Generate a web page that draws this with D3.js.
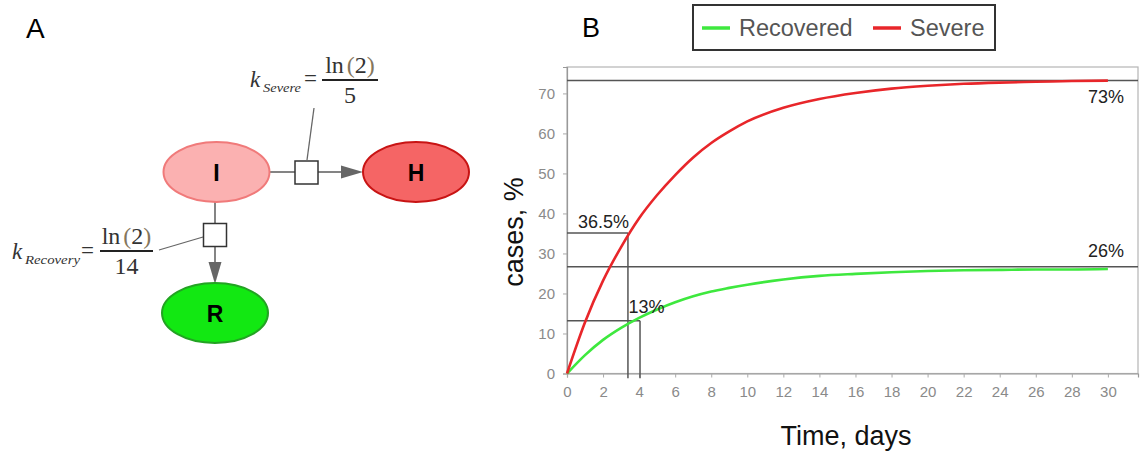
<!DOCTYPE html>
<html>
<head>
<meta charset="utf-8">
<script src="https://cdn.jsdelivr.net/npm/d3@7"></script>
<style>
  html, body { margin: 0; padding: 0; background: #fff; }
  svg { display: block; font-family: "Liberation Sans", Arial, sans-serif; }
</style>
</head>
<body>
<div id="chart"></div>
<script>
// ---- data ----
const days = [0, 1, 2, 3, 4, 5, 6, 7, 8, 9, 10, 12, 14, 16, 18, 20, 22, 24, 26, 28, 30];
const severe = [0, 12.8, 23.2, 31.6, 38.8, 44.6, 49.6, 54, 57.6, 60.5, 63, 66.4, 68.6, 70.1, 71.2, 71.9, 72.4, 72.7, 72.9, 73.1, 73.2];
const recovered = [0, 4.6, 8.4, 11.4, 13.9, 16, 17.8, 19.3, 20.5, 21.4, 22.2, 23.5, 24.4, 24.9, 25.3, 25.6, 25.8, 25.9, 26, 26, 26.1];

const seriesNames = ["Recovered", "Severe"];
const seriesColors = ["#3ee83e", "#e8262a"];

const xTickValues = [0, 2, 4, 6, 8, 10, 12, 14, 16, 18, 20, 22, 24, 26, 28, 30];
const yTickValues = [0, 10, 20, 30, 40, 50, 60, 70];

// plateau lines (full width) and half-way markers
const plateauValues = [73.2, 26.7];
const plateauLabels = ["73%", "26%"];
const halfTimes = [3.38, 4.05];
const halfValues = [35.1, 13.2];
const halfLabels = ["36.5%", "13%"];

// ---- layout ----
const W = 1145, H = 454;
const plot = { left: 567, right: 1138, top: 67, bottom: 373.5 };

const svg = d3.select("#chart").append("svg")
  .attr("width", W).attr("height", H)
  .attr("viewBox", `0 0 ${W} ${H}`);

// panel letters
svg.append("text").attr("x", 26).attr("y", 38).attr("font-size", 28).text("A");
svg.append("text").attr("x", 582).attr("y", 37).attr("font-size", 27).text("B");

// ================= Panel A: reaction scheme =================
const gA = svg.append("g");
const edge = "#666";

// connector lines
gA.append("line").attr("x1", 270).attr("y1", 172).attr("x2", 295).attr("y2", 172).attr("stroke", edge).attr("stroke-width", 1.6);
gA.append("line").attr("x1", 318).attr("y1", 172).attr("x2", 342).attr("y2", 172).attr("stroke", edge).attr("stroke-width", 1.6);
gA.append("path").attr("d", "M341,165.5 L363,172 L341,178.5 Z").attr("fill", edge);

gA.append("line").attr("x1", 215).attr("y1", 202).attr("x2", 215).attr("y2", 223).attr("stroke", edge).attr("stroke-width", 1.6);
gA.append("line").attr("x1", 215).attr("y1", 247).attr("x2", 215).attr("y2", 263).attr("stroke", edge).attr("stroke-width", 1.6);
gA.append("path").attr("d", "M208.5,262 L215,284 L221.5,262 Z").attr("fill", edge);

// annotation leaders
gA.append("line").attr("x1", 307).attr("y1", 160).attr("x2", 314).attr("y2", 108).attr("stroke", edge).attr("stroke-width", 1.3);
gA.append("line").attr("x1", 203).attr("y1", 237).attr("x2", 159).attr("y2", 250).attr("stroke", edge).attr("stroke-width", 1.3);

// reaction squares
gA.append("rect").attr("x", 295).attr("y", 161).attr("width", 23).attr("height", 23)
  .attr("fill", "#fff").attr("stroke", "#333").attr("stroke-width", 1.5);
gA.append("rect").attr("x", 203.5).attr("y", 223.5).attr("width", 23).attr("height", 23)
  .attr("fill", "#fff").attr("stroke", "#333").attr("stroke-width", 1.5);

// nodes
const nodes = [
  { name: "I", cx: 216.5, cy: 172, fill: "#fbb1b1", stroke: "#f07a7a" },
  { name: "H", cx: 416, cy: 172, fill: "#f56565", stroke: "#c81414" },
  { name: "R", cx: 215, cy: 313, fill: "#12e812", stroke: "#23a323" }
];
const nodeG = gA.selectAll("g.node").data(nodes).join("g").attr("class", "node");
nodeG.append("ellipse")
  .attr("cx", d => d.cx).attr("cy", d => d.cy).attr("rx", 53).attr("ry", 30)
  .attr("fill", d => d.fill).attr("stroke", d => d.stroke).attr("stroke-width", 2);
nodeG.append("text")
  .attr("x", d => d.cx).attr("y", d => d.cy + 8.5)
  .attr("text-anchor", "middle").attr("font-size", 23).attr("font-weight", 700)
  .text(d => d.name);

// rate formulas
const serif = "'Liberation Serif', 'DejaVu Serif', serif";
function formula(g, o) {
  g.append("text").attr("x", o.kx).attr("y", o.kBase)
    .attr("font-family", serif).attr("font-style", "italic").attr("font-size", 23).attr("fill", "#333").text("k");
  g.append("text").attr("x", o.kx + 13).attr("y", o.kBase + 5)
    .attr("font-family", serif).attr("font-style", "italic").attr("font-size", o.subSize).attr("fill", "#333")
    .attr("textLength", o.subLen).attr("lengthAdjust", "spacingAndGlyphs").text(o.sub);
  g.append("text").attr("x", o.eqx).attr("y", o.kBase - 1)
    .attr("font-family", serif).attr("font-size", 23).attr("fill", "#333").text("=");
  const num = g.append("text").attr("x", o.barX + o.barW / 2).attr("y", o.barY - 7)
    .attr("text-anchor", "middle").attr("font-family", serif).attr("font-size", 24).attr("fill", "#333");
  num.append("tspan").text("ln");
  num.append("tspan").attr("dx", 3).attr("fill", "#85765c").text("(");
  num.append("tspan").text("2");
  num.append("tspan").attr("fill", "#85765c").text(")");
  g.append("line").attr("x1", o.barX).attr("x2", o.barX + o.barW).attr("y1", o.barY).attr("y2", o.barY)
    .attr("stroke", "#222").attr("stroke-width", 2);
  g.append("text").attr("x", o.barX + o.barW / 2).attr("y", o.barY + 23)
    .attr("text-anchor", "middle").attr("font-family", serif).attr("font-size", 24).attr("fill", "#333").text(o.den);
}
formula(gA, { kx: 250, kBase: 87, sub: "Severe", subSize: 13, subLen: 38, eqx: 304, barX: 322, barY: 80, barW: 56, den: "5" });
formula(gA, { kx: 12, kBase: 259, sub: "Recovery", subSize: 13, subLen: 55, eqx: 81, barX: 100, barY: 251, barW: 53, den: "14" });

// ================= Panel B: time course =================
const x = d3.scaleLinear().domain([0, 31.67]).range([plot.left, plot.right]);
const y = d3.scaleLinear().domain([0, 76.6]).range([plot.bottom, plot.top]);

const gB = svg.append("g");

// frame
gB.append("rect")
  .attr("x", plot.left).attr("y", plot.top)
  .attr("width", plot.right - plot.left).attr("height", plot.bottom - plot.top)
  .attr("fill", "none").attr("stroke", "#b5b5b5").attr("stroke-width", 1.2);

// axes
const xAxis = gB.append("g").attr("transform", `translate(0,${plot.bottom})`)
  .call(d3.axisBottom(x).tickValues(xTickValues).tickSize(4).tickPadding(9));
const yAxis = gB.append("g").attr("transform", `translate(${plot.left},0)`)
  .call(d3.axisLeft(y).tickValues(yTickValues).tickSize(4).tickPadding(8));
[xAxis, yAxis].forEach(a => {
  a.select(".domain").attr("stroke", "#999").attr("stroke-width", 1.2);
  a.selectAll(".tick line").attr("stroke", "#aaa");
  a.selectAll(".tick text").attr("fill", "#8a8a8a").attr("font-size", 15)
    .attr("font-family", "'Liberation Sans', Arial, sans-serif");
});

// reference lines
const refStroke = "#555";
gB.selectAll("line.plateau").data(plateauValues).join("line").attr("class", "plateau")
  .attr("x1", x(0)).attr("x2", plot.right)
  .attr("y1", d => y(d)).attr("y2", d => y(d))
  .attr("stroke", refStroke).attr("stroke-width", 1.5);

halfTimes.forEach((t, i) => {
  gB.append("line").attr("x1", x(0)).attr("x2", x(t))
    .attr("y1", y(halfValues[i])).attr("y2", y(halfValues[i]))
    .attr("stroke", refStroke).attr("stroke-width", 1.5);
  gB.append("line").attr("x1", x(t)).attr("x2", x(t))
    .attr("y1", y(halfValues[i])).attr("y2", y(-1.2))
    .attr("stroke", refStroke).attr("stroke-width", 1.5);
});

// curves
const line = d3.line().x((d, i) => x(days[i])).y(d => y(d)).curve(d3.curveMonotoneX);
const series = [recovered, severe];
gB.selectAll("path.curve").data(series).join("path").attr("class", "curve")
  .attr("d", d => line(d))
  .attr("fill", "none")
  .attr("stroke", (d, i) => seriesColors[i])
  .attr("stroke-width", 2.6);

// annotations
const annot = gB.append("g").attr("font-size", 18).attr("fill", "#222");
annot.selectAll("text.plat").data(plateauLabels).join("text").attr("class", "plat")
  .attr("x", plot.right - 14).attr("y", (d, i) => y(plateauValues[i]) + (i === 0 ? 22 : -10))
  .attr("text-anchor", "end").text(d => d);
annot.append("text").attr("x", x(0) + 11).attr("y", y(halfValues[0]) - 5).text(halfLabels[0]);
annot.append("text").attr("x", x(halfTimes[0]) + 0.5).attr("y", y(halfValues[1]) - 8).text(halfLabels[1]);

// axis titles
svg.append("text").attr("x", 846).attr("y", 445).attr("text-anchor", "middle")
  .attr("font-size", 27).attr("fill", "#111").text("Time, days");
svg.append("text").attr("transform", "translate(523,232) rotate(-90)")
  .attr("text-anchor", "middle").attr("font-size", 27).attr("fill", "#111").text("cases, %");

// legend
const leg = svg.append("g");
leg.append("rect").attr("x", 693).attr("y", 5).attr("width", 302).attr("height", 45)
  .attr("fill", "#fff").attr("stroke", "#333").attr("stroke-width", 2);
const legX = [702, 873];
const legItems = leg.selectAll("g.item").data(seriesNames).join("g").attr("class", "item");
legItems.append("line")
  .attr("x1", (d, i) => legX[i]).attr("x2", (d, i) => legX[i] + 28)
  .attr("y1", 28).attr("y2", 28)
  .attr("stroke", (d, i) => seriesColors[i]).attr("stroke-width", 3.5);
legItems.append("text")
  .attr("x", (d, i) => legX[i] + 37).attr("y", 35.5)
  .attr("font-size", 23.5).attr("fill", "#555").text(d => d);
</script>
</body>
</html>
